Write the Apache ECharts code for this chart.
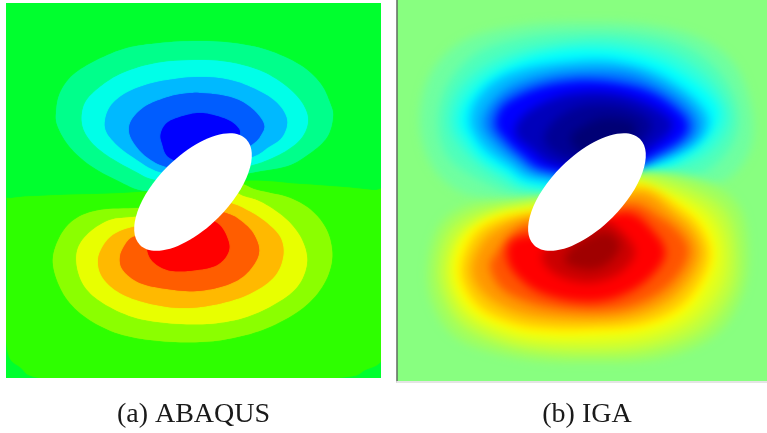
<!DOCTYPE html>
<html><head><meta charset="utf-8">
<style>html,body{margin:0;padding:0;background:#fff}#c{width:767px;height:433px}</style>
<script src="https://cdn.jsdelivr.net/npm/echarts@6/dist/echarts.min.js"></script>
</head><body><div id="c"></div>
<script>
// Captions
const captions = ['(a) ABAQUS', '(b) IGA'];

// ABAQUS panel: band outlines as [x, y], with band colours
const abaqusColors = ['#2eff00','#00ff8b','#00ffe8','#00b9ff','#005dff','#0000ff','#8bff00','#e8ff00','#ffb900','#ff5d00','#ff0000'];
const abaqusBands = [
 [[7,206],[12,198],[60,195],[140,192],[240,181],[300,184],[372,190],[384,196],[384,300],[384,355],[365,370],[335,378],[190,380],[50,379],[20,367],[7,348],[7,280]],
 [[197,41],[233,43],[267,50],[300,65],[320,83],[330,103],[333,117],[327,137],[310,153],[287,166],[250,173],[200,186],[147,191],[117,180],[90,165],[70,147],[58,127],[56,113],[60,93],[73,75],[97,60],[127,48],[160,43]],
 [[200,60],[233,63],[263,72],[287,87],[302,103],[308,120],[302,137],[287,150],[267,160],[252,165],[200,180],[157,180],[133,170],[107,155],[90,140],[82,123],[85,103],[100,87],[123,73],[157,63]],
 [[197,77],[230,80],[257,90],[277,103],[287,120],[282,137],[267,148],[252,157],[200,175],[160,172],[133,157],[115,143],[105,127],[110,107],[128,92],[157,82]],
 [[200,93],[230,97],[250,107],[263,122],[262,133],[248,147],[200,170],[167,167],[147,157],[134,143],[129,130],[133,118],[146,106],[165,98],[182,94]],
 [[200,113],[220,117],[233,123],[240,132],[233,140],[200,165],[170,158],[162,143],[161,133],[167,123],[180,117]],
 [[137,208],[100,210],[77,218],[62,233],[53,257],[57,280],[70,303],[93,322],[123,335],[160,341],[200,342],[233,338],[267,328],[300,310],[322,287],[332,260],[328,233],[313,212],[290,198],[257,190],[232,182],[190,190],[165,205]],
 [[133,217],[110,220],[90,232],[78,248],[77,267],[85,287],[103,303],[133,317],[167,323],[207,324],[243,318],[273,305],[297,287],[307,263],[302,240],[287,220],[263,203],[243,196],[225,190],[180,205],[155,215]],
 [[133,227],[113,235],[102,248],[98,262],[103,278],[120,293],[147,303],[180,308],[213,305],[247,295],[273,278],[283,257],[280,237],[263,220],[243,208],[230,203],[215,200],[170,220],[155,225]],
 [[133,237],[125,245],[120,257],[123,270],[140,283],[167,289],[197,291],[227,285],[247,273],[259,253],[253,233],[237,218],[223,212],[205,205],[170,225],[150,235]],
 [[217,223],[228,240],[228,253],[217,265],[197,270],[173,271],[157,265],[148,253],[150,235],[190,215]]
];

// IGA panel: contour outlines, with level colours
const igaColors = ['#70ffa0','#50ffbb','#2fffdd','#00ffff','#00bbff','#0077ff','#0000ff','#0000bb','#000095','#000075',
                   '#a0ff60','#c0ff40','#e0ff20','#ffff00','#ffcc00','#ff9900','#ff5500','#ff0000','#cc0000','#a00000'];
const igaContours = [
 [[590,22],[650,25],[700,38],[735,65],[752,110],[750,150],[725,180],[680,190],[620,200],[530,200],[470,195],[435,170],[420,125],[430,75],[465,40],[525,25]],
 [[590,32],[645,35],[690,48],[722,75],[738,112],[732,145],[705,172],[665,182],[620,195],[530,195],[490,185],[450,160],[438,125],[447,85],[478,52],[530,36]],
 [[588,41],[635,44],[675,55],[708,78],[727,107],[726,130],[705,155],[670,170],[620,194],[532,190],[500,178],[468,155],[450,127],[456,95],[482,68],[525,50]],
 [[585,50],[625,53],[662,63],[695,83],[715,103],[718,120],[705,140],[678,160],[652,170],[618,190],[532,185],[508,173],[482,157],[467,137],[460,123],[465,103],[485,80],[518,62],[552,53]],
 [[590,60],[625,63],[657,73],[687,92],[706,112],[708,128],[695,145],[672,157],[650,165],[610,182],[535,180],[510,167],[486,150],[473,132],[470,118],[476,100],[496,80],[530,67]],
 [[590,70],[625,72],[652,81],[680,98],[697,117],[697,133],[682,147],[655,160],[610,178],[540,174],[515,160],[495,143],[483,125],[490,105],[512,86],[550,74]],
 [[590,80],[625,84],[652,92],[675,107],[688,122],[684,137],[660,153],[610,174],[545,170],[522,156],[505,140],[495,125],[502,106],[525,92],[555,83]],
 [[590,92],[622,95],[648,104],[668,117],[672,128],[655,145],[610,170],[555,165],[532,150],[515,133],[525,114],[555,98]],
 [[595,104],[625,107],[650,120],[648,135],[615,165],[570,160],[545,143],[550,125],[570,110]],
 [[605,118],[632,122],[635,135],[620,155],[585,155],[570,138],[585,125]],
 [[590,362],[660,358],[715,335],[742,295],[748,250],[738,205],[700,180],[640,172],[590,190],[520,200],[470,205],[440,225],[428,265],[433,305],[460,340],[520,358]],
 [[587,354],[650,350],[702,330],[732,292],[737,252],[727,213],[695,190],[640,176],[590,195],[525,203],[476,212],[448,232],[438,268],[445,302],[468,330],[520,349]],
 [[586,346],[647,341],[692,322],[720,289],[727,253],[717,220],[690,198],[635,180],[590,198],[528,206],[488,216],[458,236],[447,268],[453,298],[473,322],[518,341]],
 [[585,336],[642,331],[683,314],[706,286],[716,255],[708,226],[687,206],[660,193],[630,183],[590,200],[530,210],[502,214],[478,224],[462,240],[454,265],[459,292],[478,315],[515,331],[550,336]],
 [[585,329],[638,325],[677,309],[700,283],[710,255],[702,230],[683,210],[640,186],[590,205],[530,213],[497,220],[474,235],[461,265],[466,290],[484,311],[518,325],[552,329]],
 [[585,320],[632,316],[668,301],[690,278],[700,254],[693,233],[675,215],[640,192],[590,210],[530,217],[503,226],[484,240],[472,265],[477,286],[497,304],[530,316]],
 [[585,311],[625,308],[658,294],[680,273],[689,251],[680,233],[660,217],[630,203],[585,220],[530,224],[510,236],[495,255],[490,268],[503,290],[537,305]],
 [[585,302],[615,298],[645,282],[665,256],[655,233],[625,212],[570,232],[515,238],[508,262],[527,285],[553,297]],
 [[552,272],[585,283],[617,275],[635,253],[620,230],[598,222],[545,250]],
 [[565,262],[590,270],[610,262],[620,245],[605,232],[575,245]]
];

// Elliptical hole in each plate: centre x, centre y, semi-major, semi-minor
const holeA = [193, 192, 75, 36];
const holeB = [587, 192, 75, 36];

// Draws a closed round curve through the outline's points
function roundOutline(pts) {
  const out = [], n = pts.length;
  for (let i = 0; i < n; i++) {
    const p0 = pts[(i - 1 + n) % n], p1 = pts[i], p2 = pts[(i + 1) % n], p3 = pts[(i + 2) % n];
    for (let k = 0; k < 8; k++) {
      const t = k / 8, t2 = t * t, t3 = t2 * t;
      out.push([0, 1].map(d => 0.5 * (2 * p1[d] + (p2[d] - p0[d]) * t + (2 * p0[d] - 5 * p1[d] + 4 * p2[d] - p3[d]) * t2 + (3 * p1[d] - p0[d] - 3 * p2[d] + p3[d]) * t3)));
    }
  }
  return out;
}
function bandItem(contours, colors, blur) {
  return function (params, api) {
    const i = api.value(0);
    const pts = roundOutline(contours[i].map(p => api.coord(p)));
    return { type: 'polygon', shape: { points: pts },
      style: { fill: colors[i], shadowBlur: blur, shadowColor: colors[i] } };
  };
}
// Soft contour: only the blurred glow of the outline lands in the panel
function softItem(contours, colors, blur) {
  const away = 3000;
  return function (params, api) {
    const i = api.value(0);
    const pts = roundOutline(contours[i].map(p => api.coord(p)));
    return { type: 'polygon', x: -away, shape: { points: pts },
      style: { fill: colors[i], shadowBlur: blur, shadowColor: colors[i], shadowOffsetX: away } };
  };
}
function holeItem(hole) {
  return function (params, api) {
    const c = api.coord([hole[0], hole[1]]);
    const e = api.coord([hole[0] + hole[2], hole[1]]);
    const rx = Math.abs(e[0] - c[0]);
    const f = api.coord([hole[0], hole[1] + hole[3]]);
    const ry = Math.abs(f[1] - c[1]);
    return { type: 'ellipse', shape: { cx: c[0], cy: c[1], rx: rx, ry: ry },
      rotation: Math.PI / 4, originX: c[0], originY: c[1], style: { fill: '#ffffff' } };
  };
}
const idx = a => a.map((_, i) => [i]);
const capStyle = { color: '#1a1a1a', fontFamily: 'Liberation Serif', fontSize: 28 };
const hidden = { axisTick: { show: false }, axisLabel: { show: false }, splitLine: { show: false } };

const chart = echarts.init(document.getElementById('c'), null, { renderer: 'canvas' });
chart.setOption({
  animation: false,
  backgroundColor: '#fff',
  grid: [
    { left: 6, top: 3, width: 375, height: 375, show: true, backgroundColor: '#00ff2e', borderWidth: 0, outerBoundsMode: 'none' },
    { left: 397, top: 0, width: 370, height: 382, show: true, backgroundColor: '#88ff80', borderWidth: 0, outerBoundsMode: 'none' }
  ],
  xAxis: [
    Object.assign({ type: 'value', gridIndex: 0, min: 6, max: 381, axisLine: { show: false },
      name: captions[0], nameLocation: 'middle', nameGap: 23, nameTextStyle: capStyle }, hidden),
    Object.assign({ type: 'value', gridIndex: 1, min: 397, max: 767, axisLine: { show: true, onZero: false, lineStyle: { color: '#e4e4e4', width: 2 } },
      name: captions[1], nameLocation: 'middle', nameGap: 19, nameTextStyle: Object.assign({ padding: [0, 0, 0, 10] }, capStyle) }, hidden)
  ],
  yAxis: [
    Object.assign({ type: 'value', gridIndex: 0, min: 3, max: 378, inverse: true, axisLine: { show: false } }, hidden),
    Object.assign({ type: 'value', gridIndex: 1, min: 0, max: 382, inverse: true, axisLine: { show: true, onZero: false, lineStyle: { color: '#5f6a5f', width: 1.5 } } }, hidden)
  ],
  series: [
    { type: 'custom', xAxisIndex: 0, yAxisIndex: 0, clip: true, silent: true, data: idx(abaqusBands),
      renderItem: bandItem(abaqusBands, abaqusColors, 1) },
    { type: 'custom', xAxisIndex: 0, yAxisIndex: 0, silent: true, data: [[0]], z: 5, renderItem: holeItem(holeA) },
    { type: 'custom', xAxisIndex: 1, yAxisIndex: 1, clip: true, silent: true, data: idx(igaContours),
      renderItem: softItem(igaContours, igaColors, 10) },
    { type: 'custom', xAxisIndex: 1, yAxisIndex: 1, silent: true, data: [[0]], z: 5, renderItem: holeItem(holeB) }
  ]
});
</script></body></html>
